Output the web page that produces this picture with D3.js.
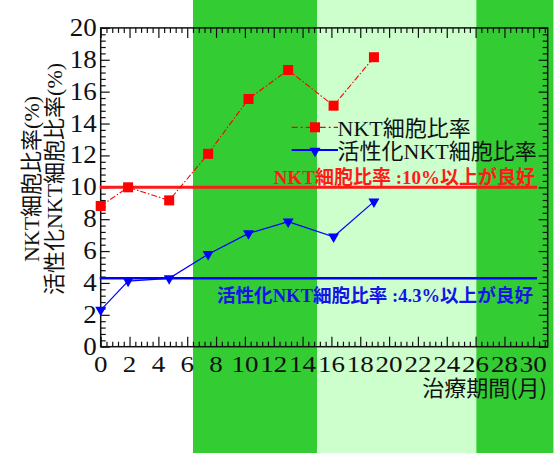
<!DOCTYPE html>
<html><head><meta charset="utf-8">
<script src="https://cdn.jsdelivr.net/npm/d3@7"></script>
<style>
body{margin:0;background:#fff;}
svg{display:block;}
</style></head>
<body>
<svg id="c" width="558" height="453" font-family="'Liberation Serif','Noto Sans CJK JP',serif"></svg>
<script>
// ---- data ----
const months = [0, 1.9, 4.75, 7.45, 10.25, 13.0, 16.15, 18.95];
const nktRatio = [8.83, 10.0, 9.18, 12.1, 15.54, 17.36, 15.12, 18.16];
const activeNktRatio = [2.3, 4.12, 4.29, 5.8, 7.11, 7.84, 6.9, 9.1];
const refNkt = 10;
const refActive = 4.3;
const xTicks = [0,2,4,6,8,10,12,14,16,18,20,22,24,26,28,30];
const yTicks = [0,2,4,6,8,10,12,14,16,18,20];
const bandEdges = [6.4, 15, 26.05, 31.4];
const bandColors = ["#33cc33", "#ccffcc", "#33cc33"];
const seriesNames = ["NKT細胞比率", "活性化NKT細胞比率"];
const refLabels = ["NKT細胞比率 :10%以上が良好", "活性化NKT細胞比率 :4.3%以上が良好"];
const xTitle = "治療期間(月)";
const yTitleLines = ["NKT細胞比率(%)", "活性化NKT細胞比率(%)"];

const SERIF = "'Liberation Serif','Noto Sans CJK JP',serif";
const SANS = "'Noto Sans CJK JP','Liberation Sans',sans-serif";

const svg = d3.select("#c");
const L = 100.7, R = 547.7, T = 27.9, B = 346.7;
const x = d3.scaleLinear().domain([0, 31]).range([L, R]);
const y = d3.scaleLinear().domain([0, 20]).range([B, T]);

// background bands (full height)
svg.selectAll("rect.band").data(bandColors).enter().append("rect")
  .attr("x", (d,i) => x(bandEdges[i]))
  .attr("width", (d,i) => x(bandEdges[i+1]) - x(bandEdges[i]))
  .attr("y", 0).attr("height", 453).attr("fill", d => d);

// minor ticks
const xMinor = d3.range(0, 31.01, 0.4).filter(v => Math.abs(v/2 - Math.round(v/2)) > 1e-6);
const yMinor = d3.range(0, 20.01, 0.4).filter(v => Math.abs(v/2 - Math.round(v/2)) > 1e-6);

function styleAxis(g){ g.select(".domain").remove(); g.selectAll("line").attr("stroke","#111").attr("stroke-width",1.2); }

// tick marks (inward) via d3 axes, no labels
const axes = [
  [d3.axisBottom(x).tickValues(xTicks).tickSize(-10), `translate(0,${B})`],
  [d3.axisBottom(x).tickValues(xMinor).tickSize(-5), `translate(0,${B})`],
  [d3.axisTop(x).tickValues(xTicks).tickSize(-10), `translate(0,${T})`],
  [d3.axisTop(x).tickValues(xMinor).tickSize(-5), `translate(0,${T})`],
  [d3.axisLeft(y).tickValues(yTicks).tickSize(-9), `translate(${L},0)`],
  [d3.axisLeft(y).tickValues(yMinor).tickSize(-5), `translate(${L},0)`],
  [d3.axisRight(y).tickValues(yTicks).tickSize(-9), `translate(${R},0)`],
  [d3.axisRight(y).tickValues(yMinor).tickSize(-5), `translate(${R},0)`]
];
axes.forEach(([ax, tr]) => {
  svg.append("g").attr("transform", tr).call(ax.tickFormat("")).call(styleAxis);
});

// tick labels
svg.selectAll("text.xl").data(xTicks).enter().append("text")
  .attr("transform", d => `translate(${x(d)},${B + 25}) scale(1.2,1)`)
  .attr("text-anchor","middle").attr("font-family", SERIF).attr("font-size", 22.5)
  .attr("fill","#111").text(d => d);
svg.selectAll("text.yl").data(yTicks).enter().append("text")
  .attr("transform", d => `translate(${L - 4},${y(d) + 8}) scale(1.08,1)`)
  .attr("text-anchor","end").attr("font-family", SERIF).attr("font-size", 25)
  .attr("fill","#111").text(d => d);

// frame
svg.append("rect").attr("x", L).attr("y", T).attr("width", R-L).attr("height", B-T)
  .attr("fill","none").attr("stroke","#111").attr("stroke-width",1.5);

// reference lines
svg.append("line").attr("x1", L-1).attr("x2", 537).attr("y1", y(refNkt)).attr("y2", y(refNkt))
  .attr("stroke","#ff1a1a").attr("stroke-width",3);
svg.append("line").attr("x1", L-1).attr("x2", 537).attr("y1", y(refActive)).attr("y2", y(refActive))
  .attr("stroke","#0000ff").attr("stroke-width",2.5);

svg.append("text").attr("x", 535).attr("y", y(refNkt)-3.5).attr("text-anchor","end")
  .attr("font-family", SERIF).attr("font-size",19).attr("font-weight","bold").attr("fill","#ff1a1a").text(refLabels[0]);
svg.append("text").attr("x", 533).attr("y", y(refActive)+24).attr("text-anchor","end")
  .attr("font-family", SERIF).attr("font-size",18.6).attr("font-weight","bold").attr("fill","#1414e6").text(refLabels[1]);

// series
const redPts = months.map((m,i) => [m, nktRatio[i]]);
const bluePts = months.map((m,i) => [m, activeNktRatio[i]]);
const line = d3.line().x(d => x(d[0])).y(d => y(d[1]));

svg.append("path").attr("d", line(redPts)).attr("fill","none")
  .attr("stroke","#ff0000").attr("stroke-width",1.1).attr("stroke-dasharray","6,2,1.5,2");
svg.append("path").attr("d", line(bluePts)).attr("fill","none")
  .attr("stroke","#0000ff").attr("stroke-width",1.2);

const sq = 10;
svg.selectAll("rect.red").data(redPts).enter().append("rect")
  .attr("x", d => x(d[0]) - sq/2).attr("y", d => y(d[1]) - sq/2)
  .attr("width", sq).attr("height", sq).attr("fill","#ff0000");

const tri = d3.symbol().type(d3.symbolTriangle).size(52);
svg.selectAll("path.blue").data(bluePts).enter().append("path")
  .attr("d", tri).attr("transform", d => `translate(${x(d[0])},${y(d[1])}) rotate(180)`)
  .attr("fill","#0000ff");

// legend
const lg = svg.append("g");
lg.append("line").attr("x1",291.7).attr("x2",338).attr("y1",127.3).attr("y2",127.3)
  .attr("stroke","#ff0000").attr("stroke-width",1.2).attr("stroke-dasharray","6,3,2,3");
lg.append("rect").attr("x",315-sq/2).attr("y",127.3-sq/2).attr("width",sq).attr("height",sq).attr("fill","#ff0000");
lg.append("line").attr("x1",291.7).attr("x2",338).attr("y1",150).attr("y2",150)
  .attr("stroke","#0000ff").attr("stroke-width",1.8);
lg.append("path").attr("d",tri).attr("transform","translate(315,151) rotate(180)").attr("fill","#0000ff");
lg.append("text").attr("x",337.5).attr("y",136).attr("font-family", SERIF).attr("font-size",22).attr("fill","#111").text(seriesNames[0]);
lg.append("text").attr("x",337.5).attr("y",158.5).attr("font-family", SERIF).attr("font-size",22).attr("fill","#111").text(seriesNames[1]);

// axis titles
svg.append("text").attr("x", 547).attr("y", 396).attr("text-anchor","end")
  .attr("font-size",22).attr("fill","#111")
  .attr("font-family", SANS).text(xTitle);

const yt = svg.append("text").attr("transform","translate(0,179) rotate(-90)")
  .attr("text-anchor","middle").attr("font-family", SERIF).attr("font-size",22).attr("fill","#111");
yt.append("tspan").attr("x",0).attr("y",39).text(yTitleLines[0]);
yt.append("tspan").attr("x",0).attr("y",62).text(yTitleLines[1]);
</script>
</body></html>
